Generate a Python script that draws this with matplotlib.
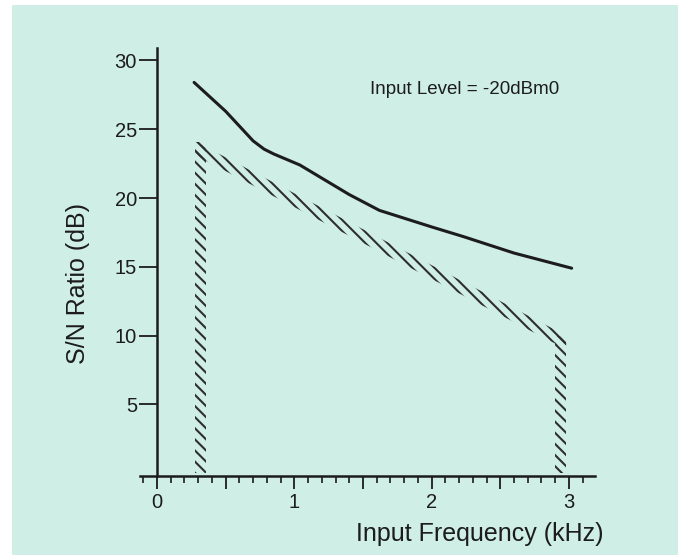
import numpy as np
import matplotlib.pyplot as plt
from matplotlib.patches import Rectangle, Polygon
from matplotlib.ticker import MultipleLocator

plt.rcParams['font.family'] = ['Liberation Sans', 'DejaVu Sans']
plt.rcParams['hatch.linewidth'] = 1.5

# measured S/N curve (kHz, dB)
freq_khz = [0.27, 0.5, 0.7, 0.78, 0.85, 1.04, 1.4, 1.62, 2.0, 2.23, 2.6, 3.02]
sn_db = [28.4, 26.3, 24.15, 23.55, 23.2, 22.4, 20.25, 19.1, 17.9, 17.2, 16.0, 14.9]

# limit mask (hatched)
mask_f = [0.28, 2.98]
mask_db = [24.1, 10.0]

y_ticks = [5, 10, 15, 20, 25, 30]
x_ticks = [0, 0.5, 1, 1.5, 2, 2.5, 3]
x_ticklabels = ['0', '', '1', '', '2', '', '3']

bg = '#cfeee6'
ink = '#1c1c1c'

fig = plt.figure(figsize=(6.85, 5.55), dpi=100, facecolor='white')
fig.patches.append(Rectangle((12 / 685, 0), 666 / 685, 550 / 555,
                             transform=fig.transFigure, facecolor=bg,
                             edgecolor='none', zorder=-10))

ax = fig.add_axes([140 / 685, (555 - 476) / 555, 455 / 685, 428 / 555])
ax.set_facecolor('none')
ax.set_xlim(-0.124, 3.19)
ax.set_ylim(-0.2, 30.9)

# hatched mask: two vertical bars and sloped band
bar_w = 0.08
band_t = 1.0
hatch = '\\\\\\'
hc = '#2e2e2e'
ax.add_patch(Rectangle((mask_f[0], 0), bar_w, mask_db[0], facecolor='none',
                       edgecolor=hc, lw=0, hatch=hatch))
ax.add_patch(Rectangle((mask_f[1] - bar_w, 0), bar_w, mask_db[1], facecolor='none',
                       edgecolor=hc, lw=0, hatch=hatch))
ax.add_patch(Polygon([(mask_f[0], mask_db[0]), (mask_f[1], mask_db[1]),
                      (mask_f[1], mask_db[1] - band_t), (mask_f[0], mask_db[0] - band_t)],
                     closed=True, facecolor='none', edgecolor=hc, lw=0, hatch=hatch))

ax.plot(freq_khz, sn_db, color=ink, lw=2.2, solid_capstyle='round',
        solid_joinstyle='round')

ax.text(1.55, 27.9, 'Input Level = -20dBm0', fontsize=13.5, color=ink, va='center')

for s in ['top', 'right']:
    ax.spines[s].set_visible(False)
ax.spines['left'].set_position(('data', 0))
ax.spines['left'].set_linewidth(1.8)
ax.spines['bottom'].set_linewidth(1.8)
ax.spines['left'].set_color(ink)
ax.spines['bottom'].set_color(ink)

ax.set_yticks(y_ticks)
ax.set_yticklabels([str(v) for v in y_ticks])
ax.tick_params(axis='y', length=13, width=1.3, pad=1.5, labelsize=14.5,
               colors=ink)
ax.set_xticks(x_ticks)
ax.set_xticklabels(x_ticklabels)
ax.xaxis.set_minor_locator(MultipleLocator(0.1))
ax.tick_params(axis='x', which='major', length=9, width=1.3, pad=3.5,
               labelsize=14.5, colors=ink)
ax.tick_params(axis='x', which='minor', length=5, width=1.2, colors=ink)

fig.text(603 / 685, 1 - 534 / 555, 'Input Frequency (kHz)', fontsize=18,
         color=ink, ha='right', va='center')
fig.text(78 / 685, 1 - 283 / 555, 'S/N Ratio (dB)', fontsize=18, color=ink,
         rotation=90, ha='center', va='center')

fig.savefig('out.png', dpi=100, facecolor=fig.get_facecolor())
